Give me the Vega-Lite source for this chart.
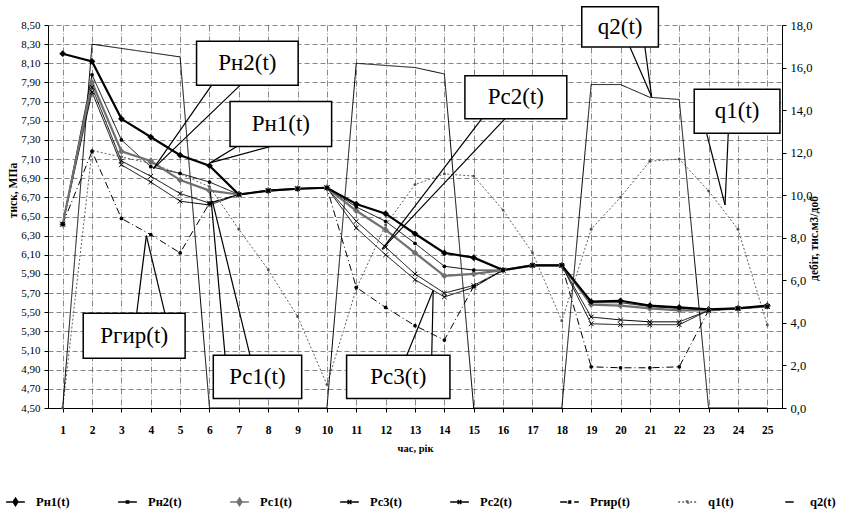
{
  "$schema": "https://vega.github.io/schema/vega-lite/v6.json",
  "width": 734,
  "height": 383,
  "autosize": {"type": "none"},
  "padding": {"left": 48, "top": 25, "right": 60, "bottom": 114},
  "background": "white",
  "config": {
    "view": {"stroke": null},
    "font": "Liberation Serif",
    "axisX": {"labelFont": "Liberation Serif", "labelFontSize": 11.5, "labelFontWeight": "bold", "labelColor": "black", "labelPadding": 12,
      "tickSize": 4, "tickColor": "black", "domainColor": "black", "domainWidth": 1, "grid": true, "labelOverlap": false,
      "gridColor": "#555", "gridDash": [6, 2, 1, 2], "gridWidth": 0.7,
      "titleFont": "Liberation Serif", "titleFontSize": 10.5, "titleFontWeight": "bold", "titleColor": "black", "titlePadding": 8}
  },
  "datasets": {
    "main": [
      {"t": 1, "Рн1(t)": 8.20, "Рн2(t)": 6.42, "Рс1(t)": 6.42, "Рс3(t)": 6.42, "Рс2(t)": 6.42, "Ргир(t)": 6.42, "q1(t)": 0, "q2(t)": 0},
      {"t": 2, "Рн1(t)": 8.12, "Рн2(t)": 7.98, "Рс1(t)": 7.90, "Рс3(t)": 7.85, "Рс2(t)": 7.80, "Ргир(t)": 7.18, "q1(t)": 12.1, "q2(t)": 17.1},
      {"t": 3, "Рн1(t)": 7.52, "Рн2(t)": 7.30, "Рс1(t)": 7.18, "Рс3(t)": 7.08, "Рс2(t)": 7.04, "Ргир(t)": 6.48, "q1(t)": 11.8, "q2(t)": 16.9},
      {"t": 4, "Рн1(t)": 7.33, "Рн2(t)": 7.02, "Рс1(t)": 7.08, "Рс3(t)": 6.92, "Рс2(t)": 6.86, "Ргир(t)": 6.31, "q1(t)": 11.5, "q2(t)": 16.7},
      {"t": 5, "Рн1(t)": 7.14, "Рн2(t)": 6.95, "Рс1(t)": 6.88, "Рс3(t)": 6.74, "Рс2(t)": 6.66, "Ргир(t)": 6.12, "q1(t)": 11.0, "q2(t)": 16.5},
      {"t": 6, "Рн1(t)": 7.03, "Рн2(t)": 6.86, "Рс1(t)": 6.77, "Рс3(t)": 6.64, "Рс2(t)": 6.62, "Ргир(t)": 6.64, "q1(t)": 10.4, "q2(t)": 0},
      {"t": 7, "Рн1(t)": 6.73, "Рн2(t)": 6.73, "Рс1(t)": 6.73, "Рс3(t)": 6.73, "Рс2(t)": 6.73, "Ргир(t)": 6.73, "q1(t)": 8.4, "q2(t)": 0},
      {"t": 8, "Рн1(t)": 6.77, "Рн2(t)": 6.77, "Рс1(t)": 6.77, "Рс3(t)": 6.77, "Рс2(t)": 6.77, "Ргир(t)": 6.77, "q1(t)": 6.5, "q2(t)": 0},
      {"t": 9, "Рн1(t)": 6.79, "Рн2(t)": 6.79, "Рс1(t)": 6.79, "Рс3(t)": 6.79, "Рс2(t)": 6.79, "Ргир(t)": 6.79, "q1(t)": 4.3, "q2(t)": 0},
      {"t": 10, "Рн1(t)": 6.80, "Рн2(t)": 6.80, "Рс1(t)": 6.80, "Рс3(t)": 6.80, "Рс2(t)": 6.80, "Ргир(t)": 6.80, "q1(t)": 1.1, "q2(t)": 0},
      {"t": 11, "Рн1(t)": 6.63, "Рн2(t)": 6.60, "Рс1(t)": 6.56, "Рс3(t)": 6.45, "Рс2(t)": 6.38, "Ргир(t)": 5.76, "q1(t)": 5.6, "q2(t)": 16.2},
      {"t": 12, "Рн1(t)": 6.53, "Рн2(t)": 6.45, "Рс1(t)": 6.36, "Рс3(t)": 6.18, "Рс2(t)": 6.10, "Ргир(t)": 5.55, "q1(t)": 8.6, "q2(t)": 16.1},
      {"t": 13, "Рн1(t)": 6.32, "Рн2(t)": 6.22, "Рс1(t)": 6.12, "Рс3(t)": 5.90, "Рс2(t)": 5.84, "Ргир(t)": 5.36, "q1(t)": 10.5, "q2(t)": 16.0},
      {"t": 14, "Рн1(t)": 6.12, "Рн2(t)": 5.98, "Рс1(t)": 5.88, "Рс3(t)": 5.70, "Рс2(t)": 5.66, "Ргир(t)": 5.21, "q1(t)": 11.0, "q2(t)": 15.7},
      {"t": 15, "Рн1(t)": 6.07, "Рн2(t)": 5.94, "Рс1(t)": 5.90, "Рс3(t)": 5.78, "Рс2(t)": 5.76, "Ргир(t)": 5.77, "q1(t)": 10.9, "q2(t)": 0},
      {"t": 16, "Рн1(t)": 5.94, "Рн2(t)": 5.94, "Рс1(t)": 5.94, "Рс3(t)": 5.94, "Рс2(t)": 5.94, "Ргир(t)": 5.94, "q1(t)": 9.3, "q2(t)": 0},
      {"t": 17, "Рн1(t)": 5.99, "Рн2(t)": 5.99, "Рс1(t)": 5.99, "Рс3(t)": 5.99, "Рс2(t)": 5.99, "Ргир(t)": 5.99, "q1(t)": 7.3, "q2(t)": 0},
      {"t": 18, "Рн1(t)": 5.99, "Рн2(t)": 5.99, "Рс1(t)": 5.99, "Рс3(t)": 5.99, "Рс2(t)": 5.99, "Ргир(t)": 5.99, "q1(t)": 4.1, "q2(t)": 0},
      {"t": 19, "Рн1(t)": 5.61, "Рн2(t)": 5.60, "Рс1(t)": 5.58, "Рс3(t)": 5.45, "Рс2(t)": 5.38, "Ргир(t)": 4.93, "q1(t)": 8.4, "q2(t)": 15.2},
      {"t": 20, "Рн1(t)": 5.62, "Рн2(t)": 5.60, "Рс1(t)": 5.57, "Рс3(t)": 5.42, "Рс2(t)": 5.37, "Ргир(t)": 4.92, "q1(t)": 9.9, "q2(t)": 15.2},
      {"t": 21, "Рн1(t)": 5.57, "Рн2(t)": 5.56, "Рс1(t)": 5.54, "Рс3(t)": 5.40, "Рс2(t)": 5.37, "Ргир(t)": 4.92, "q1(t)": 11.6, "q2(t)": 14.6},
      {"t": 22, "Рн1(t)": 5.55, "Рн2(t)": 5.54, "Рс1(t)": 5.52, "Рс3(t)": 5.40, "Рс2(t)": 5.37, "Ргир(t)": 4.93, "q1(t)": 11.7, "q2(t)": 14.5},
      {"t": 23, "Рн1(t)": 5.53, "Рн2(t)": 5.52, "Рс1(t)": 5.52, "Рс3(t)": 5.52, "Рс2(t)": 5.52, "Ргир(t)": 5.52, "q1(t)": 10.2, "q2(t)": 0},
      {"t": 24, "Рн1(t)": 5.54, "Рн2(t)": 5.54, "Рс1(t)": 5.54, "Рс3(t)": 5.54, "Рс2(t)": 5.54, "Ргир(t)": 5.54, "q1(t)": 8.4, "q2(t)": 0},
      {"t": 25, "Рн1(t)": 5.57, "Рн2(t)": 5.56, "Рс1(t)": 5.56, "Рс3(t)": 5.56, "Рс2(t)": 5.56, "Ргир(t)": 5.56, "q1(t)": 3.9, "q2(t)": 0}
    ],
    "boxes": [
      {"lab": "Рн2(t)", "x1": 5.56, "x2": 9.02, "y1": 8.33, "y2": 7.87, "tx": 7.29, "ty": 8.10},
      {"lab": "Рн1(t)", "x1": 6.70, "x2": 10.16, "y1": 7.70, "y2": 7.23, "tx": 8.43, "ty": 7.465},
      {"lab": "Ргир(t)", "x1": 1.70, "x2": 5.17, "y1": 5.49, "y2": 5.02, "tx": 3.435, "ty": 5.255},
      {"lab": "Рс1(t)", "x1": 6.13, "x2": 9.14, "y1": 5.05, "y2": 4.60, "tx": 7.635, "ty": 4.825},
      {"lab": "Рс3(t)", "x1": 10.67, "x2": 14.19, "y1": 5.05, "y2": 4.60, "tx": 12.43, "ty": 4.825},
      {"lab": "Рс2(t)", "x1": 14.70, "x2": 18.17, "y1": 7.97, "y2": 7.52, "tx": 16.435, "ty": 7.745},
      {"lab": "q2(t)", "x1": 18.68, "x2": 21.29, "y1": 8.69, "y2": 8.27, "tx": 19.985, "ty": 8.48},
      {"lab": "q1(t)", "x1": 22.51, "x2": 25.43, "y1": 7.83, "y2": 7.37, "tx": 23.97, "ty": 7.60}
    ],
    "pointers": [
      {"x1": 6.07, "y1": 7.87, "x2": 4.09, "y2": 7.00},
      {"x1": 7.04, "y1": 7.87, "x2": 4.09, "y2": 7.00},
      {"x1": 6.93, "y1": 7.23, "x2": 6.02, "y2": 7.06},
      {"x1": 8.06, "y1": 7.23, "x2": 6.02, "y2": 7.06},
      {"x1": 3.52, "y1": 5.49, "x2": 3.85, "y2": 6.30},
      {"x1": 4.48, "y1": 5.49, "x2": 3.85, "y2": 6.30},
      {"x1": 6.53, "y1": 5.05, "x2": 6.03, "y2": 6.76},
      {"x1": 7.38, "y1": 5.05, "x2": 6.10, "y2": 6.66},
      {"x1": 12.72, "y1": 5.05, "x2": 13.62, "y2": 5.73},
      {"x1": 13.57, "y1": 5.05, "x2": 13.62, "y2": 5.73},
      {"x1": 15.27, "y1": 7.52, "x2": 11.88, "y2": 6.16},
      {"x1": 16.06, "y1": 7.52, "x2": 11.88, "y2": 6.16},
      {"x1": 20.32, "y1": 8.27, "x2": 21.06, "y2": 7.75},
      {"x1": 20.83, "y1": 8.27, "x2": 21.06, "y2": 7.75},
      {"x1": 22.93, "y1": 7.37, "x2": 23.56, "y2": 6.62},
      {"x1": 23.67, "y1": 7.37, "x2": 23.56, "y2": 6.62}
    ]
  },
  "layer": [
    {
      "data": {"name": "main"},
      "transform": [
        {"fold": ["Рн1(t)", "Рн2(t)", "Рс1(t)", "Рс3(t)", "Рс2(t)", "Ргир(t)", "q1(t)", "q2(t)"], "as": ["series", "value"]},
        {"filter": {"field": "series", "oneOf": ["Рн2(t)", "Рс3(t)", "Рс2(t)", "Ргир(t)"]}}
      ],
      "mark": {"type": "line", "strokeWidth": 1},
      "encoding": {
        "x": {"field": "t", "type": "quantitative", "scale": {"domain": [0.5, 25.5], "nice": false, "zero": false},
          "axis": {"values": [1,2,3,4,5,6,7,8,9,10,11,12,13,14,15,16,17,18,19,20,21,22,23,24,25], "title": "час, рік", "labelOverlap": false}},
        "y": {"field": "value", "type": "quantitative", "scale": {"domain": [4.5, 8.5], "nice": false, "zero": false},
          "axis": {"values": [4.5,4.7,4.9,5.1,5.3,5.5,5.7,5.9,6.1,6.3,6.5,6.7,6.9,7.1,7.3,7.5,7.7,7.9,8.1,8.3,8.5],
            "labelExpr": "replace(format(datum.value, '.2f'), '.', ',')", "title": "тиск, МПа",
            "labelFont": "Liberation Serif", "labelFontSize": 11, "labelColor": "black", "labelPadding": 4,
            "tickSize": 4, "tickColor": "black", "domainColor": "black", "domainWidth": 1,
            "grid": true, "gridColor": "#555", "gridDash": [5, 3], "gridWidth": 0.7,
            "titleFont": "Liberation Serif", "titleFontSize": 11.5, "titleFontWeight": "bold", "titleColor": "black", "titlePadding": 2, "titleY": 165}},
        "color": {"field": "series", "type": "nominal",
          "scale": {"domain": ["Рн1(t)", "Рн2(t)", "Рс1(t)", "Рс3(t)", "Рс2(t)", "Ргир(t)", "q1(t)", "q2(t)"],
            "range": ["#000000", "#000000", "#707070", "#000000", "#000000", "#000000", "#606060", "#000000"]},
          "legend": {"title": null, "orient": "none", "legendX": -43, "legendY": 466, "direction": "horizontal", "columns": 8,
            "symbolType": "stroke", "symbolSize": 350, "symbolStrokeWidth": 1.5, "labelFont": "Liberation Serif", "labelFontSize": 12.5,
            "labelFontWeight": "bold", "labelColor": "black", "columnPadding": 45, "labelOffset": 10,
            "encode": {"symbols": {"update": {
              "shape": {"signal": "datum.value === 'Рн1(t)' || datum.value === 'Рс1(t)' ? 'M-1,0H1M0,-0.4L0.26,0L0,0.4L-0.26,0Z' : (datum.value === 'Рс3(t)' || datum.value === 'Рс2(t)') ? 'M-1,0H1M-0.2,-0.22L0.2,0.22M-0.2,0.22L0.2,-0.22' : datum.value === 'q2(t)' ? 'M-0.45,0H0.45' : 'M-1,0H1M-0.12,-0.12H0.12V0.12H-0.12Z'"},
              "fill": {"signal": "datum.value === 'Рс1(t)' ? '#707070' : (datum.value === 'Рс3(t)' || datum.value === 'Рс2(t)' || datum.value === 'q2(t)') ? 'transparent' : 'black'"}
            }}}}},
        "strokeDash": {"field": "series", "type": "nominal",
          "scale": {"domain": ["Рн1(t)", "Рн2(t)", "Рс1(t)", "Рс3(t)", "Рс2(t)", "Ргир(t)", "q1(t)", "q2(t)"],
            "range": [[1, 0], [1, 0], [1, 0], [1, 0], [1, 0], [7, 3, 1, 3], [2, 2], [1, 0]]}}
      }
    },
    {
      "data": {"name": "main"},
      "transform": [
        {"fold": ["q1(t)", "q2(t)"], "as": ["series", "value"]}
      ],
      "mark": {"type": "line", "strokeWidth": 1},
      "encoding": {
        "x": {"field": "t", "type": "quantitative", "scale": {"domain": [0.5, 25.5], "nice": false, "zero": false},
          "axis": {"values": [1,2,3,4,5,6,7,8,9,10,11,12,13,14,15,16,17,18,19,20,21,22,23,24,25], "title": "час, рік", "labelOverlap": false}},
        "y": {"field": "value", "type": "quantitative", "scale": {"domain": [0, 18], "nice": false, "zero": true},
          "axis": {"orient": "right", "values": [0,2,4,6,8,10,12,14,16,18], "labelExpr": "replace(format(datum.value, '.1f'), '.', ',')",
            "title": "дебіт, тис.м3/доб", "titleAngle": 270, "titlePadding": 8, "titleY": 213,
            "labelFont": "Liberation Sans Narrow", "labelFontSize": 12.5, "labelColor": "black", "labelPadding": 4,
            "tickSize": 4, "tickColor": "black", "domainColor": "black", "domainWidth": 1, "grid": false,
            "titleFont": "Liberation Serif", "titleFontSize": 11.5, "titleFontWeight": "bold", "titleColor": "black"}},
        "color": {"field": "series", "type": "nominal",
          "scale": {"domain": ["Рн1(t)", "Рн2(t)", "Рс1(t)", "Рс3(t)", "Рс2(t)", "Ргир(t)", "q1(t)", "q2(t)"],
            "range": ["#000000", "#000000", "#707070", "#000000", "#000000", "#000000", "#606060", "#000000"]}, "legend": null},
        "strokeDash": {"field": "series", "type": "nominal",
          "scale": {"domain": ["Рн1(t)", "Рн2(t)", "Рс1(t)", "Рс3(t)", "Рс2(t)", "Ргир(t)", "q1(t)", "q2(t)"],
            "range": [[1, 0], [1, 0], [1, 0], [1, 0], [1, 0], [7, 3, 1, 3], [2, 2], [1, 0]]}, "legend": null}
      }
    },
    {
      "data": {"name": "main"},
      "transform": [
        {"fold": ["q1(t)"], "as": ["series", "value"]}
      ],
      "mark": {"type": "point", "shape": "circle", "size": 8, "filled": true, "opacity": 1, "color": "#505050"},
      "encoding": {
        "x": {"field": "t", "type": "quantitative", "scale": {"domain": [0.5, 25.5], "nice": false, "zero": false},
          "axis": {"values": [1,2,3,4,5,6,7,8,9,10,11,12,13,14,15,16,17,18,19,20,21,22,23,24,25], "title": "час, рік", "labelOverlap": false}},
        "y": {"field": "value", "type": "quantitative", "scale": {"domain": [0, 18], "nice": false, "zero": true}, "axis": null}
      }
    },
    {
      "data": {"name": "main"},
      "transform": [
        {"fold": ["Рс1(t)", "Рн1(t)"], "as": ["series", "value"]}
      ],
      "mark": {"type": "line", "strokeWidth": 2.2},
      "encoding": {
        "x": {"field": "t", "type": "quantitative", "scale": {"domain": [0.5, 25.5], "nice": false, "zero": false},
          "axis": {"values": [1,2,3,4,5,6,7,8,9,10,11,12,13,14,15,16,17,18,19,20,21,22,23,24,25], "title": "час, рік", "labelOverlap": false}},
        "y": {"field": "value", "type": "quantitative", "scale": {"domain": [4.5, 8.5], "nice": false, "zero": false}, "axis": null},
        "color": {"field": "series", "type": "nominal",
          "scale": {"domain": ["Рн1(t)", "Рн2(t)", "Рс1(t)", "Рс3(t)", "Рс2(t)", "Ргир(t)", "q1(t)", "q2(t)"],
            "range": ["#000000", "#000000", "#707070", "#000000", "#000000", "#000000", "#606060", "#000000"]}, "legend": null}
      }
    },
    {
      "data": {"name": "main"},
      "transform": [
        {"fold": ["Рн1(t)", "Рс1(t)"], "as": ["series", "value"]}
      ],
      "mark": {"type": "point", "shape": "diamond", "size": 45, "filled": true, "opacity": 1},
      "encoding": {
        "x": {"field": "t", "type": "quantitative", "scale": {"domain": [0.5, 25.5], "nice": false, "zero": false},
          "axis": {"values": [1,2,3,4,5,6,7,8,9,10,11,12,13,14,15,16,17,18,19,20,21,22,23,24,25], "title": "час, рік", "labelOverlap": false}},
        "y": {"field": "value", "type": "quantitative", "scale": {"domain": [4.5, 8.5], "nice": false, "zero": false}, "axis": null},
        "color": {"field": "series", "type": "nominal",
          "scale": {"domain": ["Рн1(t)", "Рн2(t)", "Рс1(t)", "Рс3(t)", "Рс2(t)", "Ргир(t)", "q1(t)", "q2(t)"],
            "range": ["#000000", "#000000", "#707070", "#000000", "#000000", "#000000", "#606060", "#000000"]}, "legend": null}
      }
    },
    {
      "data": {"name": "main"},
      "transform": [
        {"fold": ["Рн2(t)", "Ргир(t)"], "as": ["series", "value"]}
      ],
      "mark": {"type": "point", "shape": "circle", "size": 14, "filled": true, "opacity": 1, "color": "black"},
      "encoding": {
        "x": {"field": "t", "type": "quantitative", "scale": {"domain": [0.5, 25.5], "nice": false, "zero": false},
          "axis": {"values": [1,2,3,4,5,6,7,8,9,10,11,12,13,14,15,16,17,18,19,20,21,22,23,24,25], "title": "час, рік", "labelOverlap": false}},
        "y": {"field": "value", "type": "quantitative", "scale": {"domain": [4.5, 8.5], "nice": false, "zero": false}, "axis": null}
      }
    },
    {
      "data": {"name": "main"},
      "transform": [
        {"fold": ["Рс3(t)", "Рс2(t)"], "as": ["series", "value"]}
      ],
      "mark": {"type": "point", "shape": "M-1,-1L1,1M-1,1L1,-1", "size": 22, "filled": false, "opacity": 1, "color": "black", "strokeWidth": 1},
      "encoding": {
        "x": {"field": "t", "type": "quantitative", "scale": {"domain": [0.5, 25.5], "nice": false, "zero": false},
          "axis": {"values": [1,2,3,4,5,6,7,8,9,10,11,12,13,14,15,16,17,18,19,20,21,22,23,24,25], "title": "час, рік", "labelOverlap": false}},
        "y": {"field": "value", "type": "quantitative", "scale": {"domain": [4.5, 8.5], "nice": false, "zero": false}, "axis": null}
      }
    },
    {
      "data": {"name": "pointers"},
      "mark": {"type": "rule", "color": "black", "strokeWidth": 1.2},
      "encoding": {
        "x": {"field": "x1", "type": "quantitative", "scale": {"domain": [0.5, 25.5], "nice": false, "zero": false},
          "axis": {"values": [1,2,3,4,5,6,7,8,9,10,11,12,13,14,15,16,17,18,19,20,21,22,23,24,25], "title": "час, рік", "labelOverlap": false}},
        "x2": {"field": "x2"},
        "y": {"field": "y1", "type": "quantitative", "scale": {"domain": [4.5, 8.5], "nice": false, "zero": false}, "axis": null},
        "y2": {"field": "y2"}
      }
    },
    {
      "data": {"name": "boxes"},
      "mark": {"type": "rect", "fill": "white", "stroke": "black", "strokeWidth": 1.5},
      "encoding": {
        "x": {"field": "x1", "type": "quantitative", "scale": {"domain": [0.5, 25.5], "nice": false, "zero": false},
          "axis": {"values": [1,2,3,4,5,6,7,8,9,10,11,12,13,14,15,16,17,18,19,20,21,22,23,24,25], "title": "час, рік", "labelOverlap": false}},
        "x2": {"field": "x2"},
        "y": {"field": "y1", "type": "quantitative", "scale": {"domain": [4.5, 8.5], "nice": false, "zero": false}, "axis": null},
        "y2": {"field": "y2"}
      }
    },
    {
      "data": {"name": "boxes"},
      "mark": {"type": "text", "font": "Liberation Serif", "fontSize": 23, "color": "black", "align": "center", "baseline": "middle"},
      "encoding": {
        "x": {"field": "tx", "type": "quantitative", "scale": {"domain": [0.5, 25.5], "nice": false, "zero": false},
          "axis": {"values": [1,2,3,4,5,6,7,8,9,10,11,12,13,14,15,16,17,18,19,20,21,22,23,24,25], "title": "час, рік", "labelOverlap": false}},
        "y": {"field": "ty", "type": "quantitative", "scale": {"domain": [4.5, 8.5], "nice": false, "zero": false}, "axis": null},
        "text": {"field": "lab"}
      }
    }
  ],
  "resolve": {"scale": {"y": "independent"}}
}
